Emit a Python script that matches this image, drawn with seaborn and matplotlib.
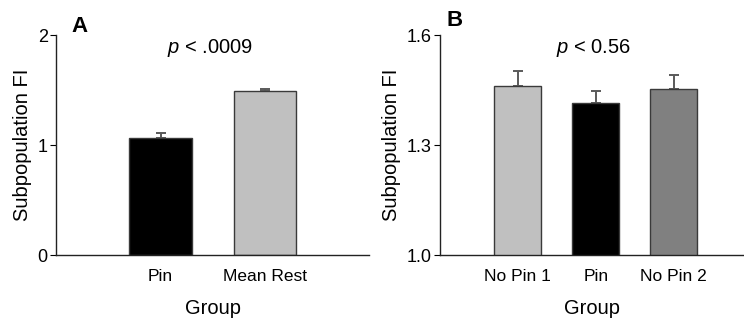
import matplotlib
matplotlib.use("Agg")
import matplotlib.pyplot as plt
import seaborn as sns
import numpy as np

# panel A data
groups_a = ["Pin", "Mean Rest"]
means_a = [1.064, 1.49]
errs_a = [0.042, 0.02]
colors_a = ["#000000", "#c0c0c0"]

# panel B data
groups_b = ["No Pin 1", "Pin", "No Pin 2"]
means_b = [1.461, 1.414, 1.452]
errs_b = [0.041, 0.032, 0.039]
colors_b = ["#c0c0c0", "#000000", "#808080"]

sns.set_style("ticks")
plt.rcParams["font.family"] = ["Liberation Sans", "DejaVu Sans"]
plt.rcParams["mathtext.fontset"] = "custom"
plt.rcParams["mathtext.it"] = "Liberation Sans:italic"
plt.rcParams["text.color"] = "black"
plt.rcParams["axes.labelcolor"] = "black"
plt.rcParams["xtick.color"] = "black"
plt.rcParams["ytick.color"] = "black"

fig = plt.figure(figsize=(7.44, 3.23), dpi=100)
ax_a = fig.add_axes([0.0753, 0.2105, 0.4213, 0.6811])
ax_b = fig.add_axes([0.5910, 0.2105, 0.4090, 0.6811])


def draw_panel(ax, groups, means, errs, colors, ylim, yticks, ytlabels, xlim, ptext, px):
    x = np.arange(len(groups))
    # upper error bars only, drawn under the bars
    ax.errorbar(x, means, yerr=[np.zeros(len(errs)), errs], fmt="none",
                ecolor="#5a5a5a", elinewidth=1.4, capsize=3.5, capthick=1.4, zorder=1)
    sns.barplot(x=groups, y=means, hue=groups, palette=colors, order=groups,
                width=0.6, edgecolor="#3a3a3a", linewidth=1.0, errorbar=None,
                legend=False, ax=ax, zorder=2)
    ax.set_ylim(*ylim)
    ax.set_xlim(*xlim)
    ax.set_yticks(yticks)
    ax.set_yticklabels(ytlabels)
    sns.despine(ax=ax)
    for s in ["left", "bottom"]:
        ax.spines[s].set_linewidth(1.0)
        ax.spines[s].set_color("#222222")
    ax.tick_params(axis="x", length=0, pad=10, labelsize=12.5)
    ax.tick_params(axis="y", length=4, width=0.8, pad=2, labelsize=13)
    ax.set_xlabel("Group", fontsize=14.5, labelpad=11)
    ax.set_ylabel("Subpopulation FI", fontsize=14.5, labelpad=4)
    ax.annotate(ptext, xy=(px, 0.94), xycoords=("data", "axes fraction"),
                ha="center", va="center", fontsize=14.5)


draw_panel(ax_a, groups_a, means_a, errs_a, colors_a, (0, 2), [0, 1, 2], ["0", "1", "2"],
           (-1, 2), r"$p$ < .0009", 0.47)
draw_panel(ax_b, groups_b, means_b, errs_b, colors_b, (1.0, 1.6), [1.0, 1.3, 1.6],
           ["1.0", "1.3", "1.6"], (-1, 2.9), r"$p$ < 0.56", 0.97)

fig.text(80 / 744, 1 - 26 / 323, "A", fontsize=16, fontweight="bold", ha="center", va="center")
fig.text(455 / 744, 1 - 20 / 323, "B", fontsize=16, fontweight="bold", ha="center", va="center")

fig.savefig("out.png", dpi=100)
